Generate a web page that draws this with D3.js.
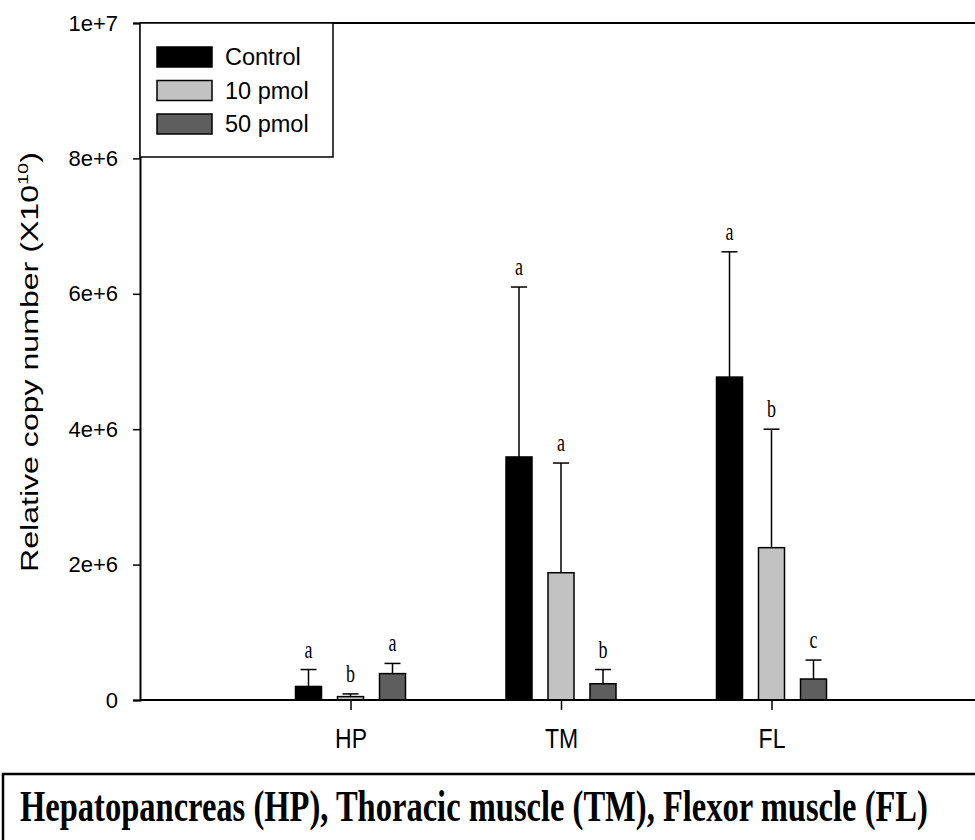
<!DOCTYPE html>
<html>
<head>
<meta charset="utf-8">
<script src="https://cdn.jsdelivr.net/npm/d3@7"></script>
<style>
  html, body { margin: 0; padding: 0; background: #fff; }
  svg { display: block; }
</style>
</head>
<body>
<div id="chart"></div>
<script>
const categories = ["HP", "TM", "FL"];
const seriesNames = ["Control", "10 pmol", "50 pmol"];
const controlVals = [0.20e6, 3.59e6, 4.77e6];
const controlErr = [0.25e6, 2.51e6, 1.85e6];
const pmol10Vals = [0.05e6, 1.88e6, 2.25e6];
const pmol10Err = [0.04e6, 1.62e6, 1.75e6];
const pmol50Vals = [0.39e6, 0.24e6, 0.31e6];
const pmol50Err = [0.15e6, 0.21e6, 0.28e6];
const controlLetters = ["a", "a", "a"];
const pmol10Letters = ["b", "a", "b"];
const pmol50Letters = ["a", "b", "c"];
const yTicks = [0, 2e6, 4e6, 6e6, 8e6, 1e7];
const yLabel = "Relative copy number (X10";
const caption = "Hepatopancreas (HP), Thoracic muscle (TM), Flexor muscle (FL)";

const colors = ["#000000", "#c2c2c2", "#5e5e5e"];
const vals = [controlVals, pmol10Vals, pmol50Vals];
const errs = [controlErr, pmol10Err, pmol50Err];
const letters = [controlLetters, pmol10Letters, pmol50Letters];

const rows = [];
seriesNames.forEach((s, i) => {
  categories.forEach((c, j) => {
    rows.push({ series: s, cat: c, value: vals[i][j], err: errs[i][j], letter: letters[i][j], color: colors[i] });
  });
});

const width = 975, height = 840;
const sans = "'Liberation Sans', Arial, sans-serif";
const serif = "'Liberation Serif', 'Times New Roman', serif";

const svg = d3.select("#chart").append("svg")
  .attr("width", width)
  .attr("height", height);

const x = d3.scalePoint().domain(categories).range([140, 982]).padding(1);
const xs = d3.scalePoint().domain(seriesNames).range([-42, 42]);
const barW = 26;
const y = d3.scaleLinear().domain([0, 1e7]).range([700, 23]);

// frame top line
svg.append("line")
  .attr("x1", 140).attr("x2", 982)
  .attr("y1", y(1e7)).attr("y2", y(1e7))
  .attr("stroke", "#000").attr("stroke-width", 2);

// y axis
const yAxis = svg.append("g")
  .attr("transform", "translate(140,0)")
  .call(d3.axisLeft(y).tickValues(yTicks).tickSize(7).tickPadding(15)
    .tickFormat(d => d === 0 ? "0" : d3.format(".0e")(d)));
yAxis.select(".domain").attr("stroke-width", 2);
yAxis.selectAll(".tick line").attr("stroke-width", 1.5);
yAxis.selectAll("text").attr("font-family", sans).attr("font-size", 22).attr("fill", "#000");

// bars
const bars = svg.append("g");
bars.selectAll("rect")
  .data(rows)
  .join("rect")
  .attr("x", d => x(d.cat) + xs(d.series) - barW / 2)
  .attr("y", d => y(d.value))
  .attr("width", barW)
  .attr("height", d => y(0) - y(d.value))
  .attr("fill", d => d.color)
  .attr("stroke", "#000")
  .attr("stroke-width", 1.5);

// error bars
const eb = svg.append("g").attr("stroke", "#000").attr("stroke-width", 1.5);
eb.selectAll("line.v")
  .data(rows)
  .join("line")
  .attr("class", "v")
  .attr("x1", d => x(d.cat) + xs(d.series))
  .attr("x2", d => x(d.cat) + xs(d.series))
  .attr("y1", d => y(d.value))
  .attr("y2", d => y(d.value + d.err));
eb.selectAll("line.cap")
  .data(rows)
  .join("line")
  .attr("class", "cap")
  .attr("x1", d => x(d.cat) + xs(d.series) - 8)
  .attr("x2", d => x(d.cat) + xs(d.series) + 8)
  .attr("y1", d => y(d.value + d.err))
  .attr("y2", d => y(d.value + d.err));

// significance letters (stretched vertically like the original)
svg.append("g").selectAll("text")
  .data(rows)
  .join("text")
  .attr("transform", d => `translate(${x(d.cat) + xs(d.series)},${y(d.value + d.err) - 12}) scale(1,1.35)`)
  .attr("text-anchor", "middle")
  .attr("font-family", serif)
  .attr("font-size", 18)
  .text(d => d.letter);

// x axis
const xAxis = svg.append("g")
  .attr("transform", `translate(0,${y(0)})`)
  .call(d3.axisBottom(x).tickSize(10).tickPadding(0).tickFormat(() => ""));
xAxis.select(".domain").attr("d", `M140,0H982`).attr("stroke-width", 2);
xAxis.selectAll(".tick line").attr("stroke-width", 1.5);
xAxis.selectAll(".tick").append("text")
  .attr("transform", "translate(0,48) scale(1,1.2)")
  .attr("text-anchor", "middle")
  .attr("font-family", sans)
  .attr("font-size", 23)
  .attr("fill", "#000")
  .text(d => d);

// legend
const legend = svg.append("g");
legend.append("rect")
  .attr("x", 140).attr("y", 23).attr("width", 193).attr("height", 134)
  .attr("fill", "#fff").attr("stroke", "#000").attr("stroke-width", 1.5);
const li = legend.selectAll("g.item")
  .data(seriesNames)
  .join("g")
  .attr("class", "item")
  .attr("transform", (d, i) => `translate(157,${47 + i * 33.5})`);
li.append("rect")
  .attr("width", 55).attr("height", 20)
  .attr("fill", (d, i) => colors[i])
  .attr("stroke", "#000").attr("stroke-width", 1.5);
li.append("text")
  .attr("x", 68).attr("y", 18)
  .attr("font-family", sans)
  .attr("font-size", 23.5)
  .text(d => d);

// y label
const yl = svg.append("text")
  .attr("font-family", sans)
  .attr("font-size", 24)
  .attr("fill", "#000");
yl.append("tspan").text(yLabel);
yl.append("tspan").attr("dy", -10).attr("font-size", 15).text("10");
yl.append("tspan").attr("dy", 10).text(")");
const ylW = yl.node().getBBox().width;
const ylScale = 420 / ylW;
yl.attr("text-anchor", "middle")
  .attr("transform", `translate(38,362) rotate(-90) scale(${ylScale},1)`);

// caption box
svg.append("path")
  .attr("d", `M${width + 5},774H3V${height + 5}`)
  .attr("fill", "none")
  .attr("stroke", "#000")
  .attr("stroke-width", 2.5);
const cap = svg.append("text")
  .attr("font-family", serif)
  .attr("font-weight", "bold")
  .attr("font-size", 44)
  .attr("fill", "#000")
  .text(caption);
const capW = cap.node().getBBox().width;
cap.attr("transform", `translate(20,821) scale(${908 / capW},1)`);
</script>
</body>
</html>
